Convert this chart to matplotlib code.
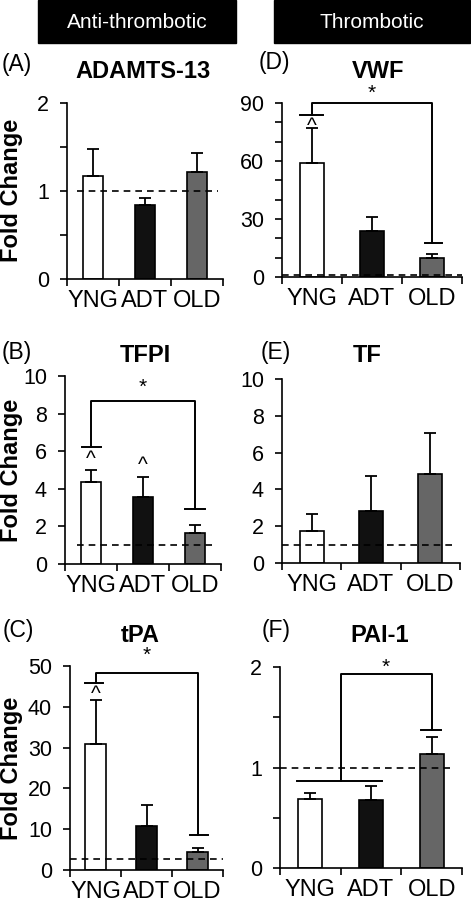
import matplotlib
matplotlib.use("Agg")
import matplotlib.pyplot as plt
import numpy as np

plt.rcParams['font.family'] = ['Liberation Sans', 'DejaVu Sans']

# --- data ---
groups = ["YNG", "ADT", "OLD"]
bar_colors = ["white", "#111111", "#666666"]

adamts13_mean = [1.17, 0.84, 1.22]
adamts13_err = [0.31, 0.08, 0.21]

vwf_mean = [59, 23.6, 9.7]
vwf_err = [18, 7.2, 2.1]

tfpi_mean = [4.37, 3.57, 1.65]
tfpi_err = [0.63, 1.07, 0.43]

tf_mean = [1.74, 2.83, 4.84]
tf_err = [0.92, 1.90, 2.23]

tpa_mean = [30.9, 10.8, 4.4]
tpa_err = [10.8, 5.1, 1.0]

pai1_mean = [0.69, 0.68, 1.13]
pai1_err = [0.06, 0.14, 0.17]

fig = plt.figure(figsize=(4.71, 9.05), dpi=100)
W, H = 471.0, 905.0


def px_axes(x0, x1, ytop, ybot):
    return fig.add_axes([x0 / W, 1 - ybot / H, (x1 - x0) / W, (ybot - ytop) / H])


def bar_panel(ax, mean, err, ymax, major, minor, dash_y, dash_x):
    x = np.arange(3) + 0.5
    ax.bar(x, mean, width=0.4, color=bar_colors, edgecolor="black", linewidth=1.2, zorder=2)
    ax.errorbar(x, mean, yerr=[np.zeros(3), err], fmt="none", ecolor="black",
                elinewidth=1.3, capsize=4, capthick=1.3, zorder=3)
    ax.plot(dash_x, [dash_y, dash_y], ls=(0, (4, 3)), color="black", lw=1.2, zorder=4)
    ax.set_xlim(0, 3)
    ax.set_ylim(0, ymax)
    ax.set_xticks([0, 1, 2, 3])
    ax.set_xticklabels([])
    ax.set_xticks(x, minor=True)
    ax.set_xticklabels(groups, minor=True, fontsize=17)
    ax.tick_params(axis="x", which="minor", length=0, pad=8)
    ax.tick_params(axis="x", which="major", length=5, width=1.2, direction="out")
    ax.set_yticks(major)
    ax.set_yticks(minor, minor=True)
    ax.tick_params(axis="y", which="both", length=5, width=1.2, labelsize=15.5, pad=8)
    for s in ["top", "right"]:
        ax.spines[s].set_visible(False)
    ax.spines["left"].set_bounds(0, ymax)
    for s in ["left", "bottom"]:
        ax.spines[s].set_linewidth(1.2)
    ax.patch.set_alpha(0)


def bracket(ax, xl, xr, top, yl, yr, capl, capr, star_y):
    kw = dict(color="black", lw=1.4, clip_on=False, zorder=5)
    ax.plot([xl, xl, xr, xr], [yl, top, top, yr], **kw)
    if capl:
        ax.plot(capl, [yl, yl], **kw)
    if capr:
        ax.plot(capr, [yr, yr], **kw)
    ax.text((xl + xr) / 2, star_y, "*", ha="center", va="center", fontsize=15, clip_on=False)


def hat(ax, x, y):
    ax.text(x, y, "^", ha="center", va="center", fontsize=15)


# (A) ADAMTS-13
axA = px_axes(67, 223, 103, 279)
bar_panel(axA, adamts13_mean, adamts13_err, 2, [0, 1, 2], [0.5, 1.5], 1, [0.2, 2.9])

# (D) VWF
axD = px_axes(282, 462, 103, 277)
bar_panel(axD, vwf_mean, vwf_err, 90, [0, 30, 60, 90], [10, 20, 40, 50, 70, 80], 1, [0, 3])
bracket(axD, 0.5, 2.5, 90, 84, 17.5, [0.3, 0.68], [2.38, 2.67], 95)
hat(axD, 0.5, 78)

# (B) TFPI
axB = px_axes(65, 221, 376, 564)
bar_panel(axB, tfpi_mean, tfpi_err, 10, [0, 2, 4, 6, 8, 10], [], 1, [0.23, 2.92])
bracket(axB, 0.5, 2.5, 8.65, 6.25, 2.93, [0.33, 0.7], [2.3, 2.7], 9.4)
hat(axB, 0.5, 5.55)
hat(axB, 1.5, 5.25)

# (E) TF
axE = px_axes(282, 460, 379, 563)
bar_panel(axE, tf_mean, tf_err, 10, [0, 2, 4, 6, 8, 10], [], 1, [0, 2.95])

# (C) tPA
axC = px_axes(70, 223, 666, 870)
bar_panel(axC, tpa_mean, tpa_err, 50, [0, 10, 20, 30, 40, 50], [], 2.6, [0, 3])
bracket(axC, 0.5, 2.5, 48.3, 45.8, 8.6, [0.3, 0.65], [2.35, 2.7], 52.5)
hat(axC, 0.5, 43)

# (F) PAI-1
axF = px_axes(280, 462, 667, 868)
bar_panel(axF, pai1_mean, pai1_err, 2, [0, 1, 2], [0.5, 1.5], 1, [0, 2.85])
bracket(axF, 1.0, 2.5, 1.93, 0.87, 1.37, [0.28, 1.68], [2.33, 2.66], 2.0)

for y in [190, 470, 768]:
    fig.text(12 / W, 1 - y / H, "Fold Change", rotation=90, ha="center", va="center",
             fontsize=17, fontweight="bold")

# header boxes
for x0, x1, label in [(38, 236, "Anti-thrombotic"), (274, 470, "Thrombotic")]:
    fig.patches.append(plt.Rectangle((x0 / W, 1 - 43 / H), (x1 - x0) / W, 43 / H,
                                     transform=fig.transFigure, color="black"))
    fig.text((x0 + x1) / 2 / W, 1 - 22 / H, label, color="white", ha="center",
             va="center", fontsize=15)

# panel letters and titles
letters = [(17, 65, "(A)"), (274, 63, "(D)"), (17, 352, "(B)"), (276, 353, "(E)"),
           (18, 630, "(C)"), (276, 630, "(F)")]
for x, y, t in letters:
    fig.text(x / W, 1 - y / H, t, ha="center", va="center", fontsize=16.5)

titles = [(143, 72, "ADAMTS-13"), (378, 72, "VWF"), (145, 355, "TFPI"),
          (367, 355, "TF"), (140, 636, "tPA"), (380, 636, "PAI-1")]
for x, y, t in titles:
    fig.text(x / W, 1 - y / H, t, ha="center", va="center", fontsize=17, fontweight="bold")

fig.savefig("out.png", dpi=100)
